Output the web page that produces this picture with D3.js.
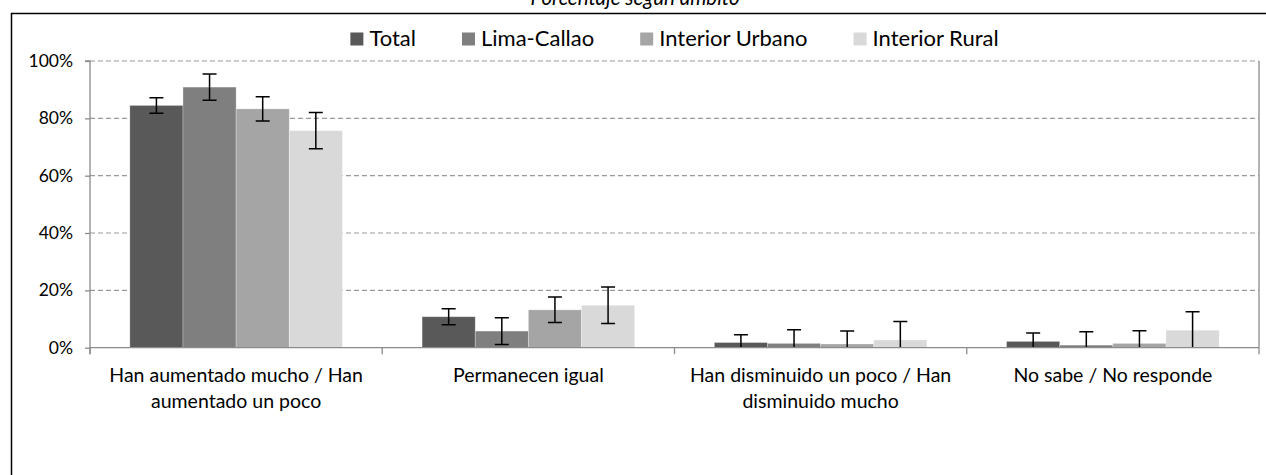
<!DOCTYPE html>
<html>
<head>
<meta charset="utf-8">
<script src="https://cdn.jsdelivr.net/npm/d3@7"></script>
<style>
  html, body { margin: 0; padding: 0; background: #fff; }
  svg { display: block; }
  text { font-family: Lato, "Open Sans", sans-serif; fill: #000; }
</style>
</head>
<body>
<svg id="chart" width="1266" height="475"></svg>
<script>
// ---- data ----
const title = "Porcentaje según ámbito";
const categories = [
  "Han aumentado mucho / Han aumentado un poco",
  "Permanecen igual",
  "Han disminuido un poco / Han disminuido mucho",
  "No sabe / No responde"
];
const series = ["Total", "Lima-Callao", "Interior Urbano", "Interior Rural"];
const total          = [84.5, 10.8, 1.8, 2.2];
const limaCallao     = [90.9, 5.8, 1.5, 0.9];
const interiorUrbano = [83.3, 13.2, 1.3, 1.5];
const interiorRural  = [75.7, 14.8, 2.7, 6.1];
// error margins (±, percentage points)
const totalErr          = [2.7, 2.8, 2.7, 2.9];
const limaCallaoErr     = [4.6, 4.65, 4.8, 4.7];
const interiorUrbanoErr = [4.2, 4.45, 4.5, 4.4];
const interiorRuralErr  = [6.35, 6.35, 6.4, 6.4];
const yTickValues = [0, 20, 40, 60, 80, 100];
const yTickLabels = ["0%", "20%", "40%", "60%", "80%", "100%"];
const colors = ["#595959", "#7f7f7f", "#a5a5a5", "#d9d9d9"];

const seriesValues = [total, limaCallao, interiorUrbano, interiorRural];
const seriesErrors = [totalErr, limaCallaoErr, interiorUrbanoErr, interiorRuralErr];

// ---- layout ----
const svg = d3.select("#chart");
const plot = { left: 90, right: 1259, top: 61, bottom: 347.7 };

// outer frame
svg.append("rect")
  .attr("x", 11.5).attr("y", 13.5)
  .attr("width", 1300).attr("height", 500)
  .attr("fill", "none").attr("stroke", "#000").attr("stroke-width", 1.5);

// title (partially cut at top, as in the reference)
svg.append("text")
  .attr("x", 635).attr("y", 5)
  .attr("text-anchor", "middle")
  .style("font-style", "italic")
  .style("font-size", "20.5px")
  .text(title);

const x0 = d3.scaleBand().domain(categories).range([plot.left, plot.right]).padding(0);
const x1 = d3.scaleBand().domain(series).range([0, x0.bandwidth()]).paddingInner(0).paddingOuter(0.75);
const y = d3.scaleLinear().domain([0, 100]).range([plot.bottom, plot.top]);

// gridlines
svg.append("g").selectAll("line")
  .data(yTickValues.filter(v => v > 0))
  .join("line")
  .attr("x1", plot.left).attr("x2", plot.right)
  .attr("y1", d => y(d)).attr("y2", d => y(d))
  .attr("stroke", "#9a9a9a").attr("stroke-width", 1.2)
  .attr("stroke-dasharray", "5,3");

// right plot border
svg.append("line")
  .attr("x1", plot.right).attr("x2", plot.right)
  .attr("y1", plot.top).attr("y2", plot.bottom)
  .attr("stroke", "#8c8c8c").attr("stroke-width", 1.3);

// bars
const groups = svg.append("g").selectAll("g")
  .data(categories)
  .join("g")
  .attr("transform", d => `translate(${x0(d)},0)`);

groups.selectAll("rect")
  .data((d, i) => series.map((s, j) => ({ s, j, v: seriesValues[j][i], e: seriesErrors[j][i] })))
  .join("rect")
  .attr("x", d => x1(d.s))
  .attr("width", x1.bandwidth())
  .attr("y", d => y(d.v))
  .attr("height", d => y(0) - y(d.v))
  .attr("fill", d => colors[d.j])
  .attr("stroke", "#ffffff").attr("stroke-opacity", 0.35).attr("stroke-width", 0.8);

// clip for error bars
svg.append("clipPath").attr("id", "plotclip")
  .append("rect")
  .attr("x", plot.left).attr("y", plot.top - 10)
  .attr("width", plot.right - plot.left).attr("height", plot.bottom - plot.top + 10);

const errG = svg.append("g").attr("clip-path", "url(#plotclip)");
categories.forEach((c, i) => {
  series.forEach((s, j) => {
    const cx = x0(c) + x1(s) + x1.bandwidth() / 2;
    const v = seriesValues[j][i], e = seriesErrors[j][i];
    const yt = y(v + e), yb = y(v - e);
    errG.append("line").attr("x1", cx).attr("x2", cx).attr("y1", yt).attr("y2", yb)
      .attr("stroke", "#000").attr("stroke-width", 1.5);
    [yt, yb].forEach(yy => {
      errG.append("line").attr("x1", cx - 7).attr("x2", cx + 7).attr("y1", yy).attr("y2", yy)
        .attr("stroke", "#000").attr("stroke-width", 1.5);
    });
  });
});

// y axis
const yAxis = d3.axisLeft(y).tickValues(yTickValues)
  .tickFormat((d, i) => yTickLabels[i]).tickSize(5).tickPadding(12);
const yg = svg.append("g").attr("transform", `translate(${plot.left},0)`).call(yAxis);
yg.select(".domain").attr("stroke", "#8c8c8c").attr("stroke-width", 1.3)
  .attr("d", `M-5,${plot.top}H0V${plot.bottom + 6.5}`);
yg.selectAll(".tick line").attr("stroke", "#8c8c8c").attr("stroke-width", 1.3);
yg.selectAll(".tick text").style("font-size", "17.5px").style("font-family", "Lato, sans-serif").attr("fill", "#000");

// x axis
const xg = svg.append("g").attr("transform", `translate(0,${plot.bottom})`);
xg.append("line").attr("x1", plot.left).attr("x2", plot.right).attr("y1", 0).attr("y2", 0)
  .attr("stroke", "#8c8c8c").attr("stroke-width", 1.3);
const bounds = categories.map(c => x0(c)).concat([x0.range()[1]]);
xg.selectAll("line.tk").data(bounds).join("line").attr("class", "tk")
  .attr("x1", d => d).attr("x2", d => d).attr("y1", 0).attr("y2", 6.5)
  .attr("stroke", "#8c8c8c").attr("stroke-width", 1.3);

// category labels with wrapping
const catFont = 19.5;
const labels = svg.append("g").selectAll("text")
  .data(categories)
  .join("text")
  .attr("x", d => x0(d) + x0.bandwidth() / 2)
  .attr("y", 382.3)
  .attr("text-anchor", "middle")
  .style("font-size", catFont + "px");

labels.each(function(d) {
  const t = d3.select(this);
  const words = d.split(" ");
  const maxW = x0.bandwidth() * 0.95;
  let lines = [], cur = [];
  const tmp = t.append("tspan");
  words.forEach(w => {
    const test = cur.concat([w]).join(" ");
    tmp.text(test);
    if (tmp.node().getComputedTextLength() > maxW && cur.length) {
      lines.push(cur.join(" "));
      cur = [w];
    } else {
      cur.push(w);
    }
  });
  lines.push(cur.join(" "));
  tmp.remove();
  lines.forEach((ln, k) => {
    t.append("tspan").attr("x", x0(d) + x0.bandwidth() / 2).attr("dy", k === 0 ? 0 : 25.4).text(ln);
  });
});

// legend (centered over the plot area)
const legFont = 22;
const legend = svg.append("g");
const items = legend.selectAll("g").data(series).join("g");
items.append("rect").attr("width", 13).attr("height", 13).attr("y", 32.5)
  .attr("fill", (d, i) => colors[i]);
items.append("text").attr("x", 19).attr("y", 45.7).style("font-size", legFont + "px").text(d => d);
const gap = 46;
let widths = [];
items.each(function() { widths.push(19 + d3.select(this).select("text").node().getComputedTextLength()); });
const totalW = d3.sum(widths) + gap * (series.length - 1);
let cx = (plot.left + plot.right) / 2 - totalW / 2;
items.each(function(d, i) {
  d3.select(this).attr("transform", `translate(${cx},0)`);
  cx += widths[i] + gap;
});
</script>
</body>
</html>
